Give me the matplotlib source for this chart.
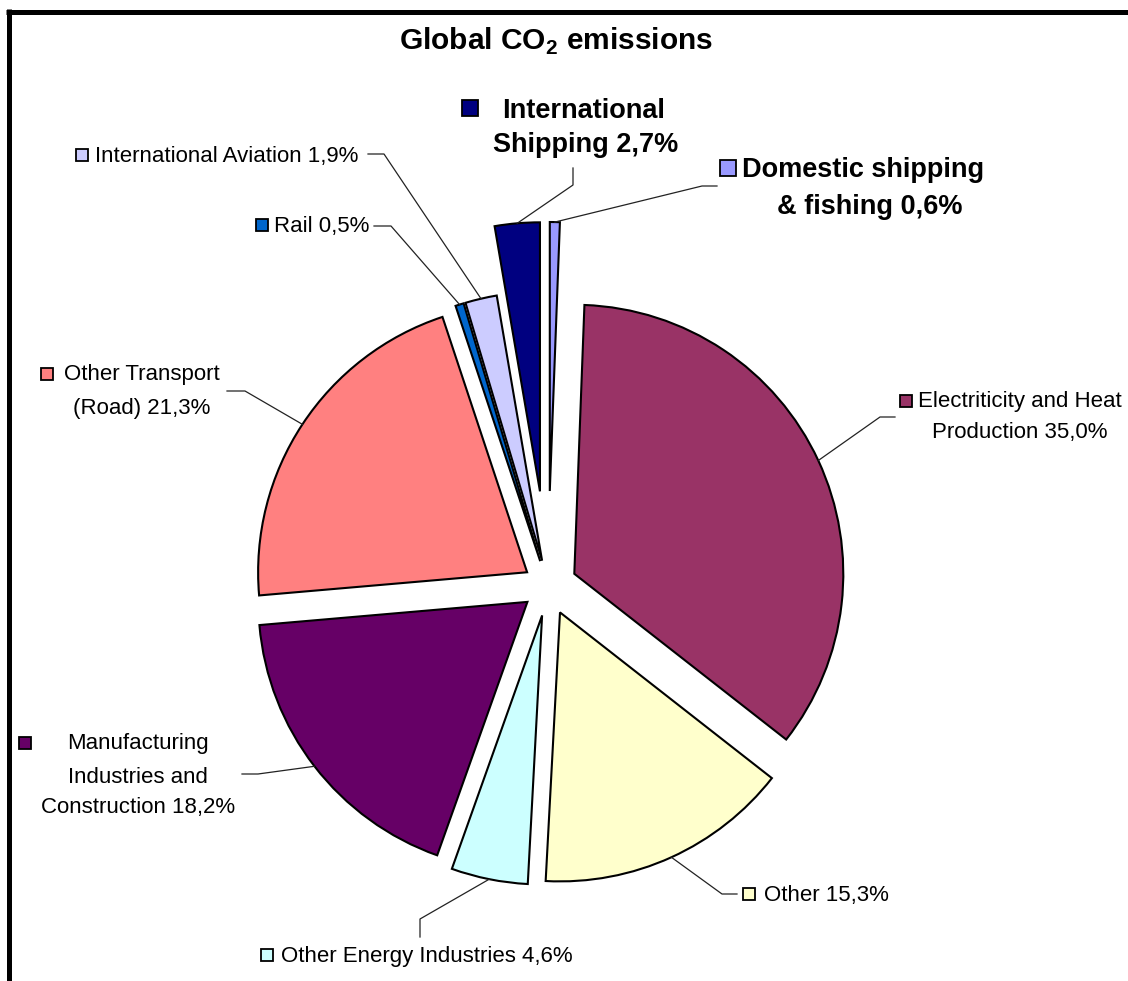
import numpy as np
import matplotlib.pyplot as plt

plt.rcParams['font.family'] = ['Liberation Sans', 'DejaVu Sans']
plt.rcParams['mathtext.fontset'] = 'custom'
plt.rcParams['mathtext.rm'] = 'Liberation Sans'
plt.rcParams['mathtext.bf'] = 'Liberation Sans:bold'

### data, clockwise from the top ###
names = ["Domestic shipping\n& fishing", "Electriticity and Heat\nProduction", "Other",
         "Other Energy Industries", "Manufacturing\nIndustries and\nConstruction",
         "Other Transport\n(Road)", "Rail", "International Aviation", "International\nShipping"]
shares = [0.6, 35.0, 15.3, 4.6, 18.2, 21.3, 0.5, 1.9, 2.7]
colors = ["#9999FF", "#993366", "#FFFFCC", "#CCFFFF", "#660066",
          "#FF8080", "#0066CC", "#CCCCFF", "#000080"]
explode = [95, 29, 29, 30, 26, 25, 26, 26, 95]  # pixels

W, H = 1128, 981
def Y(y):
    # picture y (from top) -> data y
    return H - y

# label layout: marker, line positions (x, baseline, ha), leader end + elbow
layout = [
    dict(marker=(728, 168), lines=[(742, 177, 'left'), (777, 214, 'left')], leader=[(717, 186), (702, 186)], bold=True),
    dict(marker=(906, 401), lines=[(1020, 407, 'center'), (1020, 438, 'center')], leader=[(895, 417), (880, 417)]),
    dict(marker=(749, 894), lines=[(764, 901, 'left')], leader=[(737, 894), (722, 894)]),
    dict(marker=(267, 955), lines=[(281, 962, 'left')], leader=[(420, 937), (420, 919)]),
    dict(marker=(25, 743), lines=[(138, 749, 'center'), (138, 783, 'center'), (138, 813, 'center')], leader=[(242, 774), (258, 774)]),
    dict(marker=(47, 374), lines=[(142, 380, 'center'), (142, 414, 'center')], leader=[(227, 391), (245, 391)]),
    dict(marker=(262, 225), lines=[(274, 232, 'left')], leader=[(374, 226), (391, 226)]),
    dict(marker=(82, 155), lines=[(95, 162, 'left')], leader=[(368, 154), (384, 154)]),
    dict(marker=(470, 108), lines=[(584, 118, 'center'), (586, 152, 'center')], leader=[(573, 168), (573, 185)], bold=True),
]

fig = plt.figure(figsize=(W/100, H/100), dpi=100)
ax = fig.add_axes([0, 0, 1, 1])

wedges, _ = ax.pie(shares, colors=colors, explode=explode, startangle=90, counterclock=False,
                   center=(548, Y(586)), radius=269, frame=True,
                   wedgeprops=dict(edgecolor='black', linewidth=1.5))
ax.set_xlim(0, W)
ax.set_ylim(0, H)
ax.axis('off')

for i, w in enumerate(wedges):
    lay = layout[i]
    bold = lay.get('bold', False)
    text = names[i] + " " + "{:.1f}%".format(shares[i]).replace('.', ',')
    for (x, yb, ha), line in zip(lay['lines'], text.split('\n')):
        ax.text(x, Y(yb), line, ha=ha, va='baseline', fontsize=19.5 if bold else 16,
                fontweight='bold' if bold else 'normal')
    mx, my = lay['marker']
    ax.plot(mx, Y(my), 's', ms=12 if bold else 9, mfc=colors[i], mec='black', mew=1.3)
    # leader line to the middle of the arc
    th = np.deg2rad((w.theta1 + w.theta2) / 2)
    ax_, ay_ = w.center[0] + w.r*np.cos(th), w.center[1] + w.r*np.sin(th)
    (ex, ey), (bx, by) = lay['leader']
    ax.plot([ex, bx, ax_], [Y(ey), Y(by), ay_], color='#222222', lw=0.9)

ax.text(556, Y(50), r"Global CO$_\mathbf{2}$ emissions", ha='center', va='baseline',
        fontsize=21.5, fontweight='bold')

# frame (top and left)
ax.plot([6, W], [Y(11.5), Y(11.5)], color='black', lw=3.6, solid_capstyle='butt')
ax.plot([8.5, 8.5], [Y(9), 0], color='black', lw=3.6, solid_capstyle='butt')

fig.savefig('out.png', dpi=100)
